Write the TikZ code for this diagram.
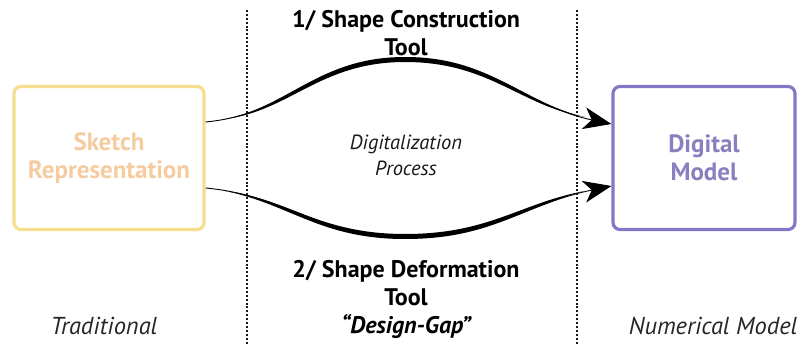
\documentclass[tikz,border=0pt]{standalone}
\usepackage{fontspec}
\setmainfont{PT Sans}
\usetikzlibrary{arrows.meta}
\definecolor{skline}{HTML}{F6DE8E}
\definecolor{sktext}{HTML}{F5CBA0}
\definecolor{dmline}{HTML}{8676C6}
\definecolor{dmtext}{HTML}{8A80BE}
\tikzset{
  box/.style={draw, line width=3.2pt, rounded corners=7pt, minimum width=190pt, minimum height=143pt, align=center, font=\bfseries\fontsize{25}{28}\selectfont},
  sep/.style={line width=2pt, dash pattern=on 2pt off 1.9pt, black!90},
  title/.style={align=center, font=\bfseries\fontsize{24}{28}\selectfont},
  note/.style={align=center, font=\itshape\fontsize{20.5}{26}\selectfont, black!90},
  lbl/.style={font=\itshape\fontsize{24.5}{26}\selectfont, black!85},
  conn/.style={line width=0.9pt, -{Stealth[length=28pt,width=22pt,inset=8pt]}},
  lens/.style={fill=black}
}
\begin{document}
\begin{tikzpicture}[x=1pt,y=-1pt]
\useasboundingbox (0,0) rectangle (801,345);
% separators
\coordinate (s1t) at (247,10);
\coordinate (s1b) at (247,345);
\coordinate (s2t) at (577,10);
\coordinate (s2b) at (577,345);
\draw[sep] (s1t) -- (s1b);
\draw[sep] (s2t) -- (s2b);
% boxes
\node[box, draw=skline, text=sktext] (sk) at (109,158) {Sketch\\Representation};
\node[box, draw=dmline, text=dmtext, minimum width=182pt] (dm) at (704,158) {Digital\\Model};
% connection anchors
\coordinate (a1) at ([yshift=36pt]sk.east);
\coordinate (a2) at ([yshift=-30pt]sk.east);
\coordinate (b1) at ([yshift=34pt]dm.west);
\coordinate (b2) at ([yshift=-28pt]dm.west);
% thickened middles of strokes
\fill[lens] (225,119) .. controls (290,106) and (320,57) .. (405,57)
  .. controls (490,57) and (520,102) .. (585,117)
  .. controls (520,106) and (490,62) .. (405,62)
  .. controls (320,62) and (290,111) .. (225,119) -- cycle;
\fill[lens] (225,191) .. controls (290,204) and (320,239) .. (405,239)
  .. controls (490,239) and (520,208) .. (585,191)
  .. controls (520,203) and (490,234) .. (405,234)
  .. controls (320,234) and (290,200) .. (225,191) -- cycle;
% connectors
\draw[conn] (a1) .. controls (290,114) and (320,59) .. (405,59) .. controls (495,59) and (525,106) .. (b1);
\draw[conn] (a2) .. controls (290,196) and (320,237) .. (405,237) .. controls (495,237) and (525,204) .. (b2);
% texts
\node[title] (t1) at (406,33) {1/ Shape Construction\\Tool};
\node[title] (t2) at (406,283) {2/ Shape Deformation\\Tool};
\node[title, font=\bfseries\itshape\fontsize{24}{27}\selectfont] (t3) at (406,326) {“Design-Gap”};
\node[note] (dp) at (406,155) {Digitalization\\Process};
\node[lbl] (tr) at (104,326) {Traditional};
\node[lbl] (nm) at (713,326) {Numerical Model};
\end{tikzpicture}
\end{document}
